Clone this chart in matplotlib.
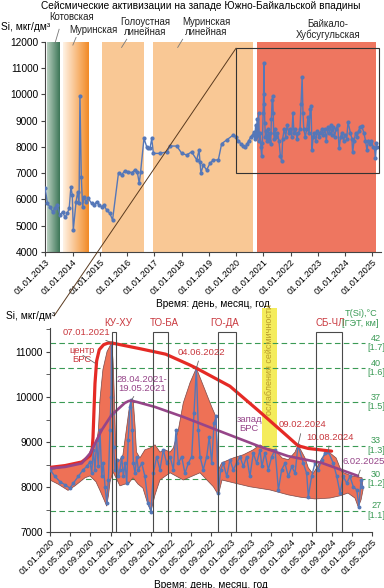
import numpy as np
import pandas as pd
import matplotlib
matplotlib.use('Agg')
import matplotlib.pyplot as plt
import matplotlib.dates as mdates
import matplotlib.transforms as mtransforms
from matplotlib.colors import LinearSegmentedColormap
from matplotlib.patches import Rectangle, ConnectionPatch
from matplotlib.ticker import MultipleLocator

plt.rcParams['font.family'] = ['Liberation Sans', 'DejaVu Sans']

# ---- Si concentration series ----
si_dates = [
    '2013-01-01', '2013-01-28', '2013-03-04', '2013-04-10', '2013-05-11', '2013-06-10',
    '2013-07-16', '2013-08-22', '2013-09-21', '2013-10-22', '2013-11-17', '2013-12-10',
    '2013-12-28', '2014-01-11', '2014-02-17', '2014-03-11', '2014-03-29', '2014-04-10',
    '2014-04-28', '2014-05-16', '2014-06-03', '2014-06-29', '2014-07-30', '2014-09-13',
    '2014-10-18', '2014-11-19', '2014-12-24', '2015-01-26', '2015-02-25', '2015-04-02',
    '2015-05-16', '2015-06-21', '2015-09-09', '2015-10-19', '2015-12-02', '2016-01-18',
    '2016-03-03', '2016-04-16', '2016-05-17', '2016-06-13', '2016-07-01', '2016-08-15',
    '2016-09-21', '2016-10-12', '2016-11-04', '2016-11-27', '2016-12-19', '2017-03-18',
    '2017-06-17', '2017-08-01', '2017-10-28', '2018-01-04', '2018-03-11', '2018-05-16',
    '2018-07-23', '2018-08-23', '2018-09-05', '2018-09-17', '2018-10-18', '2018-12-02',
    '2019-01-16', '2019-03-02', '2019-05-08', '2019-06-22', '2019-08-28', '2019-11-25',
    '2020-01-01', '2020-01-31', '2020-03-01', '2020-04-01', '2020-05-01', '2020-05-21',
    '2020-06-20', '2020-07-20', '2020-08-10', '2020-08-30', '2020-09-09', '2020-09-19',
    '2020-09-29', '2020-10-09', '2020-10-19', '2020-10-29', '2020-11-09', '2020-11-18',
    '2020-11-29', '2020-12-09', '2020-12-19', '2020-12-29', '2021-01-04', '2021-01-07',
    '2021-01-14', '2021-01-20', '2021-01-28', '2021-02-07', '2021-02-17', '2021-02-27',
    '2021-03-10', '2021-03-19', '2021-03-30', '2021-04-09', '2021-04-18', '2021-04-28',
    '2021-05-05', '2021-05-13', '2021-05-19', '2021-05-29', '2021-06-08', '2021-06-18',
    '2021-07-09', '2021-07-28', '2021-08-17', '2021-09-03', '2021-09-17', '2021-10-07',
    '2021-10-27', '2021-11-16', '2021-12-07', '2021-12-27', '2022-01-16', '2022-02-01',
    '2022-02-15', '2022-03-07', '2022-03-27', '2022-04-16', '2022-05-07', '2022-05-21',
    '2022-06-04', '2022-06-16', '2022-06-26', '2022-07-16', '2022-08-06', '2022-08-21',
    '2022-09-05', '2022-09-19', '2022-10-01', '2022-10-15', '2022-10-29', '2022-11-14',
    '2022-12-05', '2022-12-24', '2023-01-13', '2023-02-03', '2023-02-23', '2023-03-15',
    '2023-04-04', '2023-04-24', '2023-05-14', '2023-06-04', '2023-06-24', '2023-07-05',
    '2023-07-24', '2023-08-13', '2023-09-03', '2023-09-23', '2023-10-13', '2023-11-02',
    '2023-11-22', '2023-12-12', '2024-01-02', '2024-01-22', '2024-02-09', '2024-03-12',
    '2024-04-01', '2024-04-11', '2024-05-01', '2024-05-21', '2024-06-10', '2024-07-01',
    '2024-07-21', '2024-08-10', '2024-09-09', '2024-09-30', '2024-10-20', '2024-11-09',
    '2024-11-29', '2024-12-19', '2025-01-08', '2025-01-29', '2025-02-11', '2025-02-24',
    '2025-03-04']
si_values = [
    6420, 5850, 5720, 5530, 5660, 5790, 5410, 5530, 5320, 5470, 5660, 6480,
    6170, 4840, 5910, 6290, 5850, 9930, 6860, 5720, 6100, 5910, 6040, 5850,
    5790, 5910, 5790, 5720, 5790, 5600, 5470, 5220, 7020, 6930, 7090, 7050,
    7020, 7120, 7050, 6610, 7050, 8320, 8000, 7940, 7940, 8320, 7750, 7750,
    7810, 8030, 8030, 7750, 7690, 7810, 7500, 7880, 7430, 6990, 7310, 7120,
    7370, 7500, 7500, 8120, 8260, 8450,
    8390, 8240, 8125, 8050, 7980, 8090, 8240, 8390, 8460, 8570, 8310, 8830,
    8390, 9050, 8460, 9270, 8240, 8530, 8010, 7640, 8160, 9270, 10010, 11200,
    9640, 8900, 8390, 8610, 8240, 8390, 8680, 8240, 8530, 8090, 9050, 9790,
    9940, 9270, 8530, 8310, 8680, 8390, 8530, 8240, 7640, 7460, 8310, 8680,
    8390, 8830, 8530, 8680, 8390, 9270, 8530, 8680, 8310, 8530, 8680, 9640,
    10640, 9270, 8680, 8390, 8680, 9120, 8530, 9420, 9570, 7870, 8390, 8530,
    8240, 8610, 8390, 8530, 8680, 8460, 8680, 8240, 8760, 8530, 8830, 8460,
    8760, 8390, 8680, 8830, 7940, 8390, 8530, 8240, 8460, 8310, 8940, 8530,
    8310, 7790, 8240, 8530, 8390, 8610, 8760, 8790, 8530, 8240, 7870, 8240,
    8090, 8240, 8010, 7940, 7570, 8160, 8010]

# ---- seismic activation periods (top chart) ----
band_names = ['Котовская', 'Муринская', 'Голоустная\nлинейная',
              'Муринская\nлинейная', 'Байкало-\nХубсугульская']
band_start = ['2013-01-20', '2013-08-28', '2015-01-26', '2016-12-16', '2020-10-12']
band_end = ['2013-07-02', '2014-07-30', '2016-08-14', '2020-08-17', '2025-02-14']

# ---- envelope of the Si series (bottom chart) ----
env_up_dates = [
    '2020-01-01', '2020-04-01', '2020-06-30', '2020-08-18', '2020-09-17', '2020-10-11',
    '2020-10-20', '2020-10-29', '2020-11-16', '2020-12-11', '2021-01-07', '2021-01-16',
    '2021-01-25', '2021-01-31', '2021-02-09', '2021-02-27', '2021-03-17', '2021-04-05',
    '2021-04-23', '2021-05-05', '2021-05-19', '2021-05-29', '2021-06-07', '2021-06-28',
    '2021-07-28', '2021-08-28', '2021-09-27', '2021-10-27', '2021-11-26', '2021-12-27',
    '2022-01-16', '2022-02-15', '2022-03-17', '2022-04-27', '2022-06-04', '2022-07-26',
    '2022-09-05', '2022-10-01', '2022-10-15', '2022-11-04', '2023-01-13', '2023-03-15',
    '2023-05-14', '2023-06-24', '2023-07-24', '2023-09-23', '2023-11-04', '2023-12-12',
    '2024-01-22', '2024-02-09', '2024-03-22', '2024-04-11', '2024-05-09', '2024-06-01',
    '2024-07-03', '2024-08-10', '2024-09-26', '2024-10-30', '2024-12-29', '2025-03-02']
env_up_values = [
    8385, 8450, 8520, 8670, 8830, 9050, 9270, 9940, 10610, 11010, 11200, 10830,
    9940, 9050, 8560, 8610, 8720, 9230, 9720, 9930, 9900, 9380, 8780, 8650,
    8830, 8870, 8940, 8780, 8830, 8780, 8870, 9270, 9870, 10320, 10640, 10160,
    9780, 9560, 8380, 8540, 8650, 8720, 8830, 8940, 8870, 8830, 8650, 8610,
    8780, 8940, 8650, 8430, 8300, 8430, 8650, 8790, 8650, 8340, 8250, 8210]
env_low_dates = [
    '2020-01-01', '2020-02-18', '2020-04-19', '2020-05-31', '2020-07-31', '2020-08-30',
    '2020-10-05', '2020-10-29', '2020-11-23', '2020-12-09', '2020-12-20', '2020-12-29',
    '2021-01-16', '2021-02-03', '2021-02-27', '2021-03-30', '2021-04-17', '2021-05-17',
    '2021-06-16', '2021-07-16', '2021-08-16', '2021-09-03', '2021-09-27', '2021-10-27',
    '2021-12-27', '2022-03-17', '2022-06-26', '2022-09-15', '2022-10-15', '2022-11-06',
    '2023-01-12', '2023-04-24', '2023-08-23', '2023-12-12', '2024-02-21', '2024-05-21',
    '2024-08-20', '2024-10-20', '2024-12-07', '2025-01-18', '2025-02-07', '2025-02-24',
    '2025-03-08']
env_low_values = [
    8160, 8070, 7930, 8030, 8210, 8250, 8120, 7930, 7720, 7580, 7830, 8120,
    8340, 8210, 8030, 8070, 8070, 8210, 8070, 7980, 7610, 7470, 7830, 8160,
    8320, 8160, 8320, 8010, 7830, 8160, 8100, 8010, 7940, 7830, 7780, 7740,
    7760, 7810, 7870, 7760, 7560, 7720, 7940]

# ---- trend curves: centre (red) and west (purple) of the BRS ----
red_dates = ['2020-01-01', '2020-04-01', '2020-07-11', '2020-08-30', '2020-09-12',
             '2020-09-17', '2020-09-22', '2020-09-29', '2020-10-09', '2020-10-25',
             '2020-11-20', '2020-12-15', '2021-01-07', '2021-07-01', '2021-12-01',
             '2022-04-20', '2022-06-04', '2022-12-24', '2023-06-20', '2023-12-10',
             '2024-02-09', '2024-04-10', '2024-06-20', '2024-08-30']
red_values = [8440, 8480, 8560, 8700, 8850, 9100, 9600, 10300, 10800, 11050,
              11160, 11195, 11200, 11070, 10950, 10720, 10640, 10240, 9680, 9120,
              8920, 8860, 8830, 8800]
purple_dates = ['2020-01-01', '2020-04-01', '2020-07-11', '2020-08-30', '2020-11-09',
                '2021-01-07', '2021-03-29', '2021-04-20', '2021-05-05', '2021-06-10',
                '2021-09-27', '2022-03-16', '2022-10-05', '2023-06-24', '2023-12-10',
                '2024-07-01', '2025-02-06']
purple_values = [8420, 8450, 8530, 8750, 9270, 9600, 9870, 9910, 9920, 9890,
                 9780, 9560, 9270, 8900, 8690, 8540, 8250]

# ---- station boxes ----
box_names = ['КУ-ХУ', 'ТО-БА', 'ГО-ДА', 'СБ-ЧЛ']
box_start = ['2021-01-10', '2021-09-17', '2022-10-11', '2024-05-25']
box_end = ['2021-02-06', '2021-12-13', '2023-01-29', '2024-11-02']
box_label_x = ['2021-02-17', '2021-11-20', '2022-11-24', '2024-08-20']

# ---- temperature levels T(Si), °C [GET, km] ----
temp_values = [11200, 10640, 9890, 8925, 8180, 7480]
temp_labels = ['42\n[1.7]', '40\n[1.6]', '37\n[1.5]', '33\n[1.3]', '30\n[1.2]', '27\n[1.1]']

dt = lambda s: pd.to_datetime(s)
dn = lambda s: mdates.date2num(pd.to_datetime(s))

blue = '#5577b8'
red = '#e52a25'
purple = '#964589'
darkred = '#c9383e'
green = '#3a9a55'

fig = plt.figure(figsize=(3.84, 5.88), dpi=100)

# ===================== top chart =====================
ax1 = fig.add_axes([0.118, 0.5714, 0.874, 0.3578])

def grad_band(ax, x0, x1, c0, c1):
    cmap = LinearSegmentedColormap.from_list('g', [c0, c1])
    grad = np.linspace(0, 1, 256).reshape(1, -1)
    ax.imshow(grad, extent=[dn(x0), dn(x1), 4000, 12000], aspect='auto',
              cmap=cmap, zorder=0, interpolation='bilinear')

grad_band(ax1, band_start[0], band_end[0], '#b8cfbf', '#3c7556')
grad_band(ax1, band_start[1], band_end[1], '#fff3e6', '#f28a25')
ax1.axvspan(dt(band_start[2]), dt(band_end[2]), color='#f9c895', lw=0, zorder=0)
ax1.axvspan(dt(band_start[3]), dt(band_end[3]), color='#f9c895', lw=0, zorder=0)
ax1.axvspan(dt(band_start[4]), dt(band_end[4]), color='#ee7660', lw=0, zorder=0)

ax1.plot(pd.to_datetime(si_dates), si_values, color=blue, lw=1.0,
         marker='o', ms=2.0, zorder=3)

ax1.add_patch(Rectangle((dn('2020-01-01'), 7000), dn('2025-03-28') - dn('2020-01-01'),
                        4750, fill=False, ec='#333333', lw=0.8, zorder=4))

ax1.set_xlim(dt('2013-01-01'), dt('2025-04-25'))
ax1.set_ylim(4000, 12000)
ax1.yaxis.set_major_locator(MultipleLocator(1000))
ax1.xaxis.set_major_locator(mdates.YearLocator())
ax1.xaxis.set_major_formatter(mdates.DateFormatter('%d.%m.%Y'))
ax1.tick_params(axis='y', labelsize=7.3, length=3, color='#444444', pad=2)
ax1.tick_params(axis='x', labelsize=6.6, length=3, color='#444444', pad=1)
for lab in ax1.get_xticklabels():
    lab.set_rotation(45)
    lab.set_ha('right')
    lab.set_rotation_mode('anchor')
for s in ['top', 'right']:
    ax1.spines[s].set_visible(False)
for s in ['left', 'bottom']:
    ax1.spines[s].set_color('#444444')
ax1.set_xlabel('Время: день, месяц, год', fontsize=7.3, labelpad=2)

# band labels with leaders
lab_pos = [('2013-12-24', 12950), ('2014-10-01', 12440), ('2016-08-28', 12540),
           ('2018-12-02', 12540), ('2023-05-12', 12470)]
leaders = [(('2013-07-05', 12470), ('2013-05-12', 11950)),
           (('2014-02-17', 12160), ('2014-01-05', 11870)),
           (('2015-12-28', 12090), ('2015-10-20', 11780)),
           (('2018-01-15', 12090), ('2017-11-10', 11780))]
for name, (x, y) in zip(band_names, lab_pos):
    ax1.text(dt(x), y, name, fontsize=6.9, ha='center', va='center',
             linespacing=1.0, color='#222222', clip_on=False)
for (a, b) in leaders:
    ax1.plot([dt(a[0]), dt(b[0])], [a[1], b[1]], color='#777777', lw=0.6,
             clip_on=False, zorder=5)

fig.text(201 / 384, 1 - 6 / 588, 'Сейсмические активизации на западе Южно-Байкальской впадины',
         fontsize=7.3, ha='center', va='center')
fig.text(1 / 384, 1 - 27 / 588, 'Si, мкг/дм³', fontsize=7.3, ha='left', va='center')

# ===================== bottom chart =====================
ax2 = fig.add_axes([0.1302, 0.0947, 0.8385, 0.3474])

ax2.bar(dt('2023-07-08'), 11980 - 8650, bottom=8650,
        width=dn('2023-10-05') - dn('2023-07-08'), align='edge',
        color='#f4ec5c', lw=0, zorder=0.5, clip_on=False)

for v in temp_values:
    ax2.axhline(v, xmin=0, xmax=0.978, color=green, lw=0.8, ls=(0, (5, 3)), zorder=1)

env_x = np.concatenate([dn(env_up_dates), dn(env_low_dates)[::-1]])
env_y = np.concatenate([env_up_values, env_low_values[::-1]])
ax2.fill(env_x, env_y, facecolor='#ee7156', edgecolor='#7a4848', lw=0.5, zorder=2)

ax2.plot(pd.to_datetime(si_dates), si_values, color=blue, lw=1.0,
         marker='o', ms=1.8, zorder=3)

ax2.plot(pd.to_datetime(red_dates), red_values, color=red, lw=2.3,
         solid_joinstyle='round', solid_capstyle='round', zorder=4)
ax2.plot(pd.to_datetime(purple_dates), purple_values, color=purple, lw=1.9,
         solid_joinstyle='round', solid_capstyle='round', zorder=4)

for name, a, b, lx in zip(box_names, box_start, box_end, box_label_x):
    ax2.add_patch(Rectangle((dn(a), 7000), dn(b) - dn(a), 4450, fill=False,
                            ec='#4a4a4a', lw=0.8, zorder=5))
    ax2.text(dt(lx), 11650, name, fontsize=7, color=darkred, ha='center',
             va='center', clip_on=False)

ax2.text(dt('2023-08-21'), 10830, 'ослабления сейсмичности', rotation=90,
         fontsize=6.5, color='#b89a2a', ha='center', va='center', zorder=6)

def note(txt, xy, xyt, color):
    ax2.annotate(txt, xy=(dt(xy[0]), xy[1]), xytext=(dt(xyt[0]), xyt[1]),
                 fontsize=6.8, color=color, ha='center', va='center',
                 linespacing=1.0, zorder=7,
                 arrowprops=dict(arrowstyle='-', color='#666666', lw=0.6,
                                 shrinkA=1, shrinkB=0))

note('07.01.2021', ('2021-01-05', 11210), ('2020-08-06', 11430), darkred)
note('центр\nБРС', ('2020-09-30', 10750), ('2020-07-11', 10940), darkred)
note('28.04.2021-\n19.05.2021', ('2021-05-08', 9930), ('2021-07-08', 10300), purple)
note('04.06.2022', ('2022-06-04', 10640), ('2022-07-02', 10990), darkred)
note('09.02.2024', ('2024-02-09', 8940), ('2024-03-08', 9380), darkred)
note('10.08.2024', ('2024-08-10', 8790), ('2024-08-20', 9110), darkred)
note('6.02.2025', ('2025-02-06', 8250), ('2025-03-10', 8570), purple)
ax2.text(dt('2023-04-20'), 9410, 'запад\nБРС', fontsize=6.8, color=purple,
         ha='center', va='center', linespacing=1.0, zorder=7)

trans = mtransforms.blended_transform_factory(ax2.transAxes, ax2.transData)
for v, lab in zip(temp_values, temp_labels):
    ax2.text(1.013, v, lab, transform=trans, fontsize=6.6, color=green,
             ha='center', va='center', linespacing=1.05, clip_on=False)
fig.text(361 / 384, 1 - 313 / 588, 'T(Si),°C', fontsize=6.6, color=green,
         ha='center', va='center')
fig.text(360 / 384, 1 - 323 / 588, '[ГЭТ, км]', fontsize=6.6, color=green,
         ha='center', va='center')

ax2.set_xlim(dt('2020-01-01'), dt('2025-05-01'))
ax2.set_ylim(7000, 11530)
ax2.yaxis.set_major_locator(MultipleLocator(1000))
ax2.yaxis.set_minor_locator(MultipleLocator(500))
ax2.xaxis.set_major_locator(mdates.MonthLocator(bymonth=[1, 5, 9]))
ax2.xaxis.set_major_formatter(mdates.DateFormatter('%d.%m.%Y'))
ax2.tick_params(axis='y', which='both', labelsize=7.3, length=3, color='#444444', pad=2)
ax2.tick_params(axis='x', labelsize=6.6, length=3, color='#444444', pad=1)
for lab in ax2.get_xticklabels():
    lab.set_rotation(45)
    lab.set_ha('right')
    lab.set_rotation_mode('anchor')
for s in ['top', 'right']:
    ax2.spines[s].set_visible(False)
for s in ['left', 'bottom']:
    ax2.spines[s].set_color('#444444')
ax2.set_xlabel('Время: день, месяц, год', fontsize=7.3, labelpad=2)

fig.text(6 / 384, 1 - 316 / 588, 'Si, мкг/дм³', fontsize=7.3, ha='left', va='center')

# zoom connector from the inset frame to the lower chart
con = ConnectionPatch(xyA=(dn('2020-01-01'), 11750), coordsA=ax1.transData,
                      xyB=(54 / 384, 1 - 316 / 588), coordsB='figure fraction',
                      color='#5a3a1e', lw=0.7)
fig.add_artist(con)

fig.savefig('out.png', dpi=100)
